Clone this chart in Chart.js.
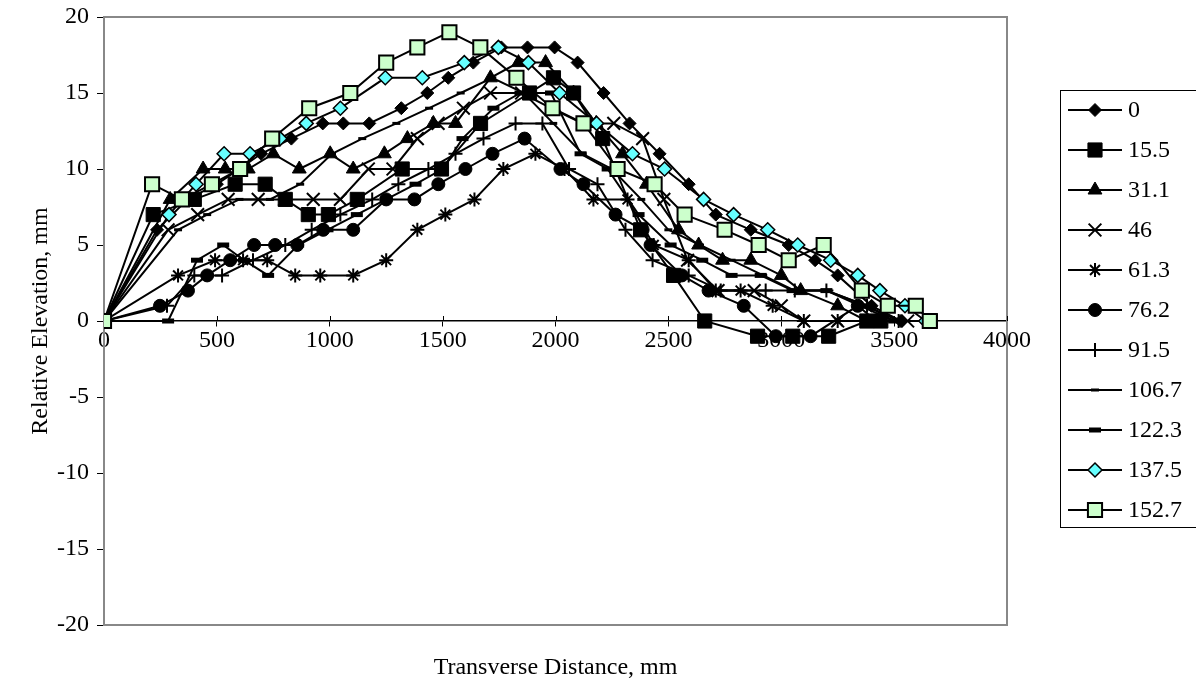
<!DOCTYPE html>
<html>
<head>
<meta charset="utf-8">
<script src="https://cdn.jsdelivr.net/npm/chart.js@4.4.1/dist/chart.umd.min.js"></script>
<style>
  html, body { margin: 0; padding: 0; background: #fff; }
  #wrap { width: 1196px; height: 686px; position: relative; }
</style>
</head>
<body>
<div id="wrap"><canvas id="profileChart" width="1196" height="686"></canvas></div>
<script>
// series labels (distance along the section)
const seriesNames = ['0', '15.5', '31.1', '46', '61.3', '76.2', '91.5', '106.7', '122.3', '137.5', '152.7'];

// transverse distance (mm) and relative elevation (mm) per series
const dist0  = [0, 235, 370, 500, 600, 696, 830, 969, 1060, 1175, 1317, 1432, 1525, 1636, 1760, 1876, 1996, 2098, 2213, 2328, 2461, 2590, 2710, 2865, 3033, 3150, 3250, 3400, 3530, 3660];
const elev0  = [0, 6, 8, 9, 10, 11, 12, 13, 13, 13, 14, 15, 16, 17, 18, 18, 18, 17, 15, 13, 11, 9, 7, 6, 5, 4, 3, 1, 0, 0];

const dist15 = [0, 218, 400, 581, 714, 803, 905, 994, 1122, 1321, 1495, 1668, 1885, 1991, 2080, 2209, 2377, 2523, 2661, 2895, 3051, 3210, 3379, 3441, 3660];
const elev15 = [0, 7, 8, 9, 9, 8, 7, 7, 8, 10, 10, 13, 15, 16, 15, 12, 6, 3, 0, -1, -1, -1, 0, 0, 0];

const dist31 = [0, 293, 439, 537, 639, 750, 865, 1002, 1104, 1242, 1344, 1459, 1557, 1712, 1836, 1956, 2080, 2180, 2297, 2403, 2545, 2634, 2740, 2865, 3000, 3086, 3250, 3379, 3441, 3660];
const elev31 = [0, 8, 10, 10, 10, 11, 10, 11, 10, 11, 12, 13, 13, 16, 17, 17, 15, 13, 11, 9, 6, 5, 4, 4, 3, 2, 1, 0, 0, 0];

const dist46 = [0, 284, 415, 550, 683, 800, 927, 1047, 1171, 1280, 1388, 1480, 1592, 1712, 1850, 1980, 2120, 2258, 2386, 2480, 2585, 2720, 2880, 3000, 3100, 3250, 3400, 3560];
const elev46 = [0, 6, 7, 8, 8, 8, 8, 8, 10, 10, 12, 13, 14, 15, 15, 14, 13, 13, 12, 8, 4, 2, 2, 1, 0, 0, 0, 0];

const dist61 = [0, 328, 492, 616, 723, 847, 958, 1104, 1250, 1388, 1512, 1641, 1769, 1911, 2040, 2168, 2319, 2435, 2590, 2710, 2820, 2962, 3100, 3250, 3400];
const elev61 = [0, 3, 4, 4, 4, 3, 3, 3, 4, 6, 7, 8, 10, 11, 10, 8, 8, 5, 4, 2, 2, 1, 0, 0, 0];

const dist76 = [0, 248, 372, 457, 559, 665, 758, 856, 971, 1104, 1250, 1375, 1481, 1601, 1721, 1863, 2022, 2124, 2266, 2386, 2421, 2560, 2678, 2834, 2976, 3130, 3339, 3420];
const elev76 = [0, 1, 2, 3, 4, 5, 5, 5, 6, 6, 8, 8, 9, 10, 11, 12, 10, 9, 7, 6, 5, 3, 2, 1, -1, -1, 1, 0];

const dist91 = [0, 279, 400, 523, 660, 803, 920, 1047, 1188, 1304, 1437, 1557, 1681, 1823, 1942, 2060, 2186, 2310, 2430, 2590, 2732, 2931, 3060, 3200, 3380, 3520];
const elev91 = [0, 1, 3, 3, 4, 5, 6, 7, 8, 9, 10, 11, 12, 13, 13, 10, 9, 6, 4, 3, 2, 2, 2, 2, 1, 0];

const dist106 = [0, 328, 457, 600, 735, 869, 1010, 1144, 1295, 1440, 1580, 1720, 1860, 1990, 2120, 2250, 2380, 2500, 2640, 2780, 2920, 3060, 3200, 3350, 3500];
const elev106 = [0, 6, 7, 8, 8, 9, 11, 12, 13, 14, 15, 16, 15, 13, 11, 10, 8, 6, 5, 4, 3, 2, 2, 1, 0];

const dist122 = [0, 284, 412, 528, 620, 727, 860, 990, 1120, 1250, 1380, 1500, 1588, 1725, 1845, 1980, 2111, 2231, 2368, 2510, 2650, 2780, 2909, 3050, 3200, 3380, 3500];
const elev122 = [0, 0, 4, 5, 4, 3, 5, 6, 7, 8, 9, 10, 12, 14, 15, 15, 11, 10, 7, 5, 4, 3, 3, 2, 2, 1, 0];

const dist137 = [0, 288, 408, 532, 647, 780, 896, 1047, 1246, 1410, 1596, 1747, 1880, 2018, 2182, 2341, 2483, 2656, 2789, 2940, 3073, 3219, 3339, 3437, 3548, 3640];
const elev137 = [0, 7, 9, 11, 11, 12, 13, 14, 16, 16, 17, 18, 17, 15, 13, 11, 10, 8, 7, 6, 5, 4, 3, 2, 1, 0];

const dist152 = [0, 213, 345, 478, 603, 745, 909, 1091, 1250, 1388, 1530, 1667, 1827, 1987, 2124, 2275, 2439, 2572, 2749, 2900, 3033, 3188, 3357, 3472, 3596, 3658];
const elev152 = [0, 9, 8, 9, 10, 12, 14, 15, 17, 18, 19, 18, 16, 14, 13, 10, 9, 7, 6, 5, 4, 5, 2, 1, 1, 0];

const xTicks = [0, 500, 1000, 1500, 2000, 2500, 3000, 3500, 4000];
const yTicks = [-20, -15, -10, -5, 0, 5, 10, 15, 20];

const FONT = 'Liberation Serif, Times New Roman, serif';
const FSIZE = 24;

const allDist = [dist0, dist15, dist31, dist46, dist61, dist76, dist91, dist106, dist122, dist137, dist152];
const allElev = [elev0, elev15, elev31, elev46, elev61, elev76, elev91, elev106, elev122, elev137, elev152];

// marker look for each series
const markers = [
  { style: 'rectRot',  r: 6.5, fill: '#000',    border: '#000', bw: 1 },
  { style: 'rect',     r: 10,  fill: '#000',    border: '#000', bw: 1 },
  { style: 'triangle', r: 8,   fill: '#000',    border: '#000', bw: 1 },
  { style: 'crossRot', r: 9,   fill: '#000',    border: '#000', bw: 2 },
  { style: 'star',     r: 7,   fill: '#000',    border: '#000', bw: 2 },
  { style: 'circle',   r: 6.5, fill: '#000',    border: '#000', bw: 1 },
  { style: 'cross',    r: 7,   fill: '#000',    border: '#000', bw: 2 },
  { style: 'line',     r: 4,   fill: '#000',    border: '#000', bw: 3 },
  { style: 'line',     r: 6,   fill: '#000',    border: '#000', bw: 5 },
  { style: 'rectRot',  r: 7,   fill: '#66ffff', border: '#000', bw: 1.5 },
  { style: 'rect',     r: 10,  fill: '#ccffcc', border: '#000', bw: 2 }
];

const datasets = seriesNames.map((name, i) => ({
  label: name,
  data: allDist[i].map((d, j) => ({ x: d, y: allElev[i][j] })),
  showLine: true,
  borderColor: '#000',
  borderWidth: 2,
  pointStyle: markers[i].style,
  pointRadius: markers[i].r,
  pointBackgroundColor: markers[i].fill,
  pointBorderColor: markers[i].border,
  pointBorderWidth: markers[i].bw,
  order: 10 - i
}));

// grey frame round the plot area + tick marks crossing the x axis
const framePlugin = {
  id: 'frame',
  beforeDatasetsDraw(chart) {
    const { ctx, chartArea: a, scales } = chart;
    ctx.save();
    ctx.strokeStyle = '#888';
    ctx.lineWidth = 2;
    ctx.strokeRect(a.left, a.top, a.right - a.left, a.bottom - a.top);
    const y0 = scales.y.getPixelForValue(0);
    ctx.strokeStyle = '#000';
    ctx.lineWidth = 1;
    xTicks.forEach(v => {
      const px = Math.round(scales.x.getPixelForValue(v)) + 0.5;
      ctx.beginPath();
      ctx.moveTo(px, y0 - 5);
      ctx.lineTo(px, y0);
      ctx.stroke();
    });
    ctx.restore();
  }
};

// x axis title under the plot, centred on the plot area
const xTitle = {
  id: 'xTitle',
  afterDraw(chart) {
    const { ctx, chartArea: a } = chart;
    ctx.save();
    ctx.fillStyle = '#000';
    ctx.font = FSIZE + 'px ' + FONT;
    ctx.textAlign = 'center';
    ctx.textBaseline = 'middle';
    ctx.fillText('Transverse Distance, mm', (a.left + a.right) / 2, 668);
    ctx.restore();
  }
};

// boxed legend on the right, line + marker + label like the original
const boxLegend = {
  id: 'boxLegend',
  afterDraw(chart) {
    const ctx = chart.ctx;
    const left = 1060, top = 90, rowH = 40;
    ctx.save();
    ctx.strokeStyle = '#000';
    ctx.lineWidth = 1;
    ctx.strokeRect(left + 0.5, top + 0.5, 1196 - left + 10, rowH * seriesNames.length - 3);
    chart.data.datasets.forEach((ds, i) => {
      const y = top + 20 + i * rowH;
      ctx.beginPath();
      ctx.moveTo(left + 8, y);
      ctx.lineTo(left + 62, y);
      ctx.strokeStyle = '#000';
      ctx.lineWidth = 2;
      ctx.stroke();
      ctx.fillStyle = ds.pointBackgroundColor;
      ctx.strokeStyle = ds.pointBorderColor;
      ctx.lineWidth = ds.pointBorderWidth;
      Chart.helpers.drawPoint(ctx, {
        pointStyle: ds.pointStyle,
        radius: ds.pointRadius,
        rotation: 0,
        borderWidth: ds.pointBorderWidth
      }, left + 35, y);
      ctx.fillStyle = '#000';
      ctx.font = FSIZE + 'px ' + FONT;
      ctx.textBaseline = 'middle';
      ctx.textAlign = 'left';
      ctx.fillText(ds.label, left + 68, y + 1);
    });
    ctx.restore();
  }
};

new Chart(document.getElementById('profileChart').getContext('2d'), {
  type: 'scatter',
  data: { datasets },
  options: {
    responsive: false,
    animation: false,
    events: [],
    layout: { padding: { top: 17, right: 189, bottom: 61, left: 0 } },
    plugins: {
      legend: { display: false },
      tooltip: { enabled: false }
    },
    scales: {
      x: {
        type: 'linear',
        position: { y: 0 },
        min: 0,
        max: 4000,
        afterBuildTicks(scale) { scale.ticks = xTicks.map(v => ({ value: v })); },
        ticks: { color: '#000', font: { family: FONT, size: FSIZE }, padding: 0, callback: v => String(v) },
        grid: { drawOnChartArea: false, drawTicks: true, tickLength: 5, color: '#000' },
        border: { color: '#000', width: 1.5 }
      },
      y: {
        position: 'left',
        min: -20,
        max: 20,
        afterBuildTicks(scale) { scale.ticks = yTicks.map(v => ({ value: v })); },
        afterFit(scale) { scale.width = 104; scale.paddingTop = 0; scale.paddingBottom = 0; },
        ticks: { color: '#000', font: { family: FONT, size: FSIZE, lineHeight: 1 }, padding: 8, callback: v => String(v) },
        grid: { drawOnChartArea: false, drawTicks: true, tickLength: 7, color: '#000' },
        border: { color: '#555', width: 2 },
        title: {
          display: true,
          text: 'Relative Elevation, mm',
          color: '#000',
          font: { family: FONT, size: FSIZE, weight: 'normal' },
          padding: { top: 26, bottom: 0 }
        }
      }
    }
  },
  plugins: [framePlugin, xTitle, boxLegend]
});
</script>
</body>
</html>
